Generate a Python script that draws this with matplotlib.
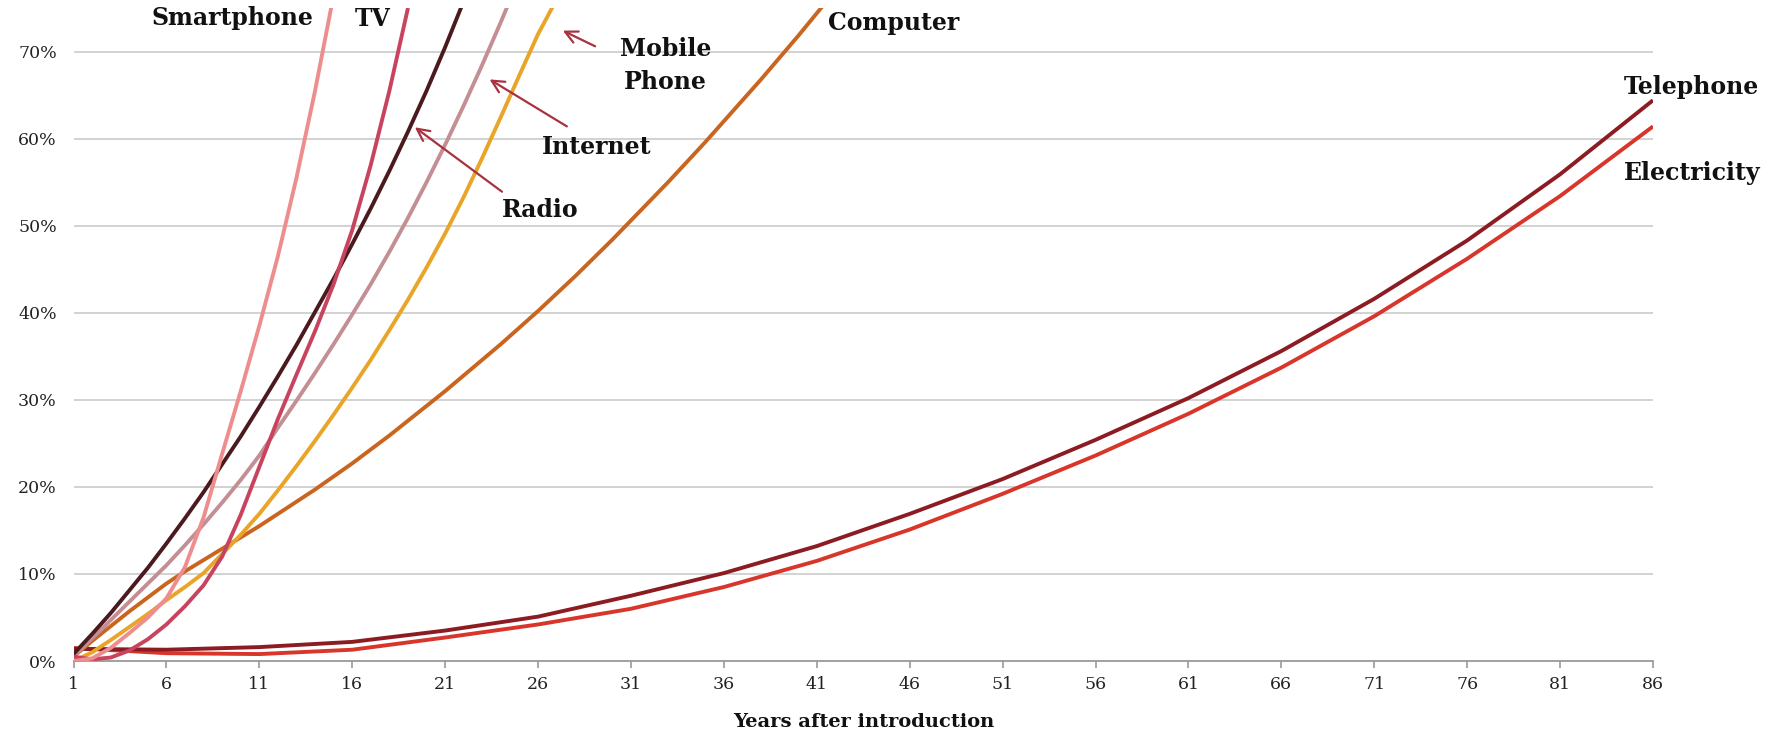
import matplotlib
matplotlib.use("Agg")
import matplotlib.pyplot as plt

# ---- data: share of households (%) by years after introduction ----
smartphone_years = list(range(1, 16))
smartphone = [0.0, 0.3, 1.5, 3.2, 5.0, 7.2, 10.8, 16.5, 23.8, 31.0, 38.5, 46.5, 55.5,
              65.5, 76.5]

tv_years = list(range(1, 20))
tv = [0.5, 0.2, 0.4, 1.2, 2.5, 4.2, 6.3, 8.7, 12.0, 16.8, 22.3, 27.8, 32.9, 37.9,
      43.3, 49.5, 57.0, 65.5, 75.0]

radio_years = list(range(1, 23))
radio = [0.8, 3.1, 5.5, 8.1, 10.7, 13.5, 16.4, 19.4, 22.6, 25.8, 29.2, 32.7, 36.3,
         40.1, 43.9, 47.9, 52.0, 56.3, 60.8, 65.5, 70.5, 75.8]

internet_years = list(range(1, 26))
internet = [0.5, 2.6, 4.7, 6.8, 8.9, 11.0, 13.3, 15.7, 18.2, 20.8, 23.6, 26.8, 29.9,
            33.1, 36.4, 39.8, 43.3, 47.0, 50.9, 55.0, 59.3, 63.8, 68.5, 73.4, 78.5]

mobile_years = list(range(1, 28))
mobile = [0.0, 1.0, 2.4, 3.9, 5.4, 7.0, 8.5, 10.1, 12.3, 14.5, 16.9, 19.6, 22.4,
          25.3, 28.3, 31.4, 34.6, 38.0, 41.5, 45.2, 49.1, 53.3, 57.8, 62.5, 67.3,
          72.0, 76.0]

computer_years = list(range(1, 43))
computer = [0.5, 2.3, 4.0, 5.7, 7.3, 8.9, 10.3, 11.6, 12.9, 14.2, 15.5, 16.9, 18.3,
            19.7, 21.2, 22.7, 24.3, 25.9, 27.6, 29.3, 31.0, 32.8, 34.6, 36.4, 38.3,
            40.2, 42.2, 44.2, 46.3, 48.4, 50.6, 52.8, 55.0, 57.3, 59.6, 62.0, 64.4,
            66.8, 69.3, 71.8, 74.4, 77.0]

long_years = [1, 6, 11, 16, 21, 26, 31, 36, 41, 46, 51, 56, 61, 66, 71, 76, 81, 86]
telephone = [1.4, 1.3, 1.6, 2.2, 3.5, 5.1, 7.5, 10.1, 13.2, 16.9, 20.9, 25.4, 30.2,
             35.6, 41.6, 48.3, 55.9, 64.4]
electricity = [1.5, 0.9, 0.8, 1.3, 2.7, 4.2, 6.0, 8.5, 11.5, 15.1, 19.2, 23.6, 28.4,
               33.7, 39.6, 46.2, 53.4, 61.4]

x_ticks = list(range(1, 87, 5))
y_ticks = [0, 10, 20, 30, 40, 50, 60, 70]
y_tick_labels = [f"{v}%" for v in y_ticks]

# ---- figure ----
SERIF = "DejaVu Serif"
fig = plt.figure(figsize=(17.69, 7.39), dpi=100)
ax = fig.add_axes([0.04155, 0.1055, 0.89288, 0.8837])

series = [
    (long_years, electricity, "#D8352B"),
    (long_years, telephone, "#8C1B22"),
    (computer_years, computer, "#C9651F"),
    (mobile_years, mobile, "#E8A528"),
    (internet_years, internet, "#C38F95"),
    (radio_years, radio, "#4B1A1F"),
    (tv_years, tv, "#C8445E"),
    (smartphone_years, smartphone, "#EE8D8D"),
]
for xs, ys, col in series:
    ax.plot(xs, ys, color=col, lw=2.8, solid_capstyle="butt",
            solid_joinstyle="round", zorder=3)

ax.set_xlim(1, 86)
ax.set_ylim(0, 75)

for v in y_ticks[1:]:
    ax.axhline(v, color="#CFCFCF", lw=1.3, zorder=1)

for side in ("left", "right", "top"):
    ax.spines[side].set_visible(False)
ax.spines["bottom"].set_color("#9A9A9A")
ax.spines["bottom"].set_linewidth(1.3)

ax.set_xticks(x_ticks)
ax.set_xticklabels([str(t) for t in x_ticks], fontfamily=SERIF, fontsize=12.5,
                   color="#222222")
ax.tick_params(axis="x", direction="out", length=5, width=1.2, color="#9A9A9A", pad=6)
ax.set_yticks(y_ticks)
ax.set_yticklabels(y_tick_labels, fontfamily=SERIF, fontsize=12.5, color="#222222")
ax.tick_params(axis="y", length=0, pad=12)

ax.set_xlabel("Years after introduction", fontfamily=SERIF, fontweight="bold",
              fontsize=14, color="#111111", labelpad=14)

# ---- series labels ----
lab = dict(fontfamily=SERIF, fontweight="bold", fontsize=17, color="#111111",
           va="center", clip_on=False)
ax.text(5.2, 73.9, "Smartphone", ha="left", **lab)
ax.text(16.15, 73.7, "TV", ha="left", **lab)
ax.text(41.6, 73.3, "Computer", ha="left", **lab)
ax.text(32.85, 68.4, "Mobile\nPhone", ha="center", multialignment="center",
        linespacing=1.45, **lab)
ax.text(26.2, 59.0, "Internet", ha="left", **lab)
ax.text(24.05, 51.8, "Radio", ha="left", **lab)
ax.text(84.45, 65.9, "Telephone", ha="left", **lab)
ax.text(84.45, 56.1, "Electricity", ha="left", **lab)

# ---- pointer arrows ----
arrow = dict(arrowstyle="->", color="#A8323F", lw=1.6, mutation_scale=22,
             shrinkA=0, shrinkB=0)
ax.annotate("", xy=(19.37, 61.3), xytext=(24.06, 53.9), arrowprops=arrow)
ax.annotate("", xy=(23.39, 66.8), xytext=(27.55, 61.4), arrowprops=arrow)
ax.annotate("", xy=(27.33, 72.4), xytext=(29.07, 70.6), arrowprops=arrow)

fig.savefig("out.png", dpi=100, facecolor="white")
